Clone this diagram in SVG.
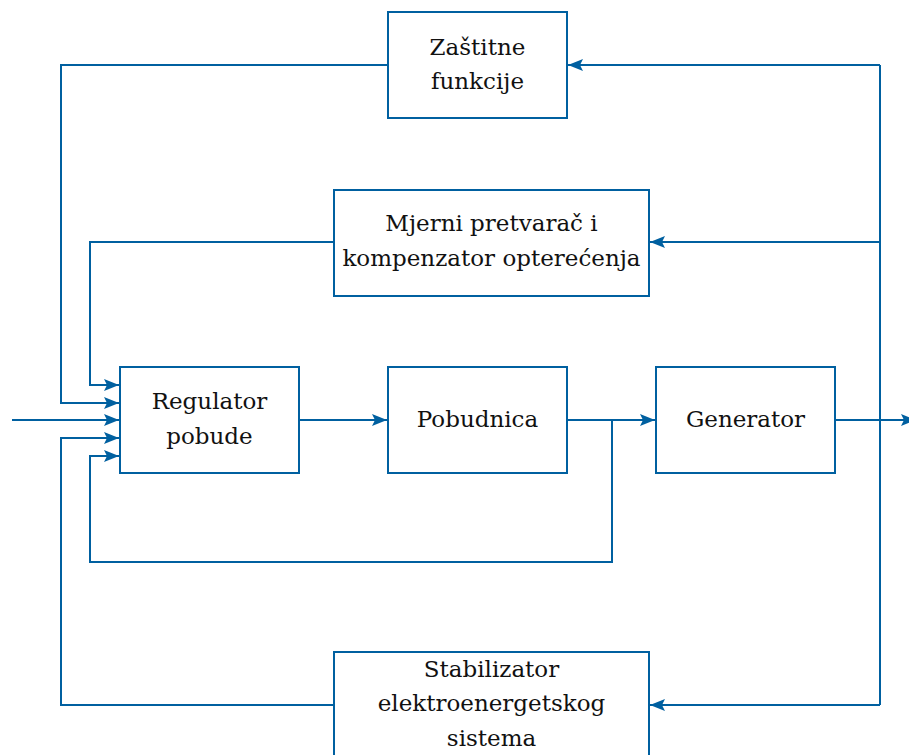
<svg xmlns="http://www.w3.org/2000/svg" width="909" height="755" viewBox="0 0 909 755">
  <style>
    .box { fill: #ffffff; stroke: #0060a0; stroke-width: 2; }
    .wire { fill: none; stroke: #0060a0; stroke-width: 2; }
    .lbl { font-family: "DejaVu Serif", "Liberation Serif", serif; font-size: 23px; fill: #111111; text-anchor: middle; }
  </style>
  <defs>
    <marker id="arr" markerUnits="userSpaceOnUse" markerWidth="18" markerHeight="16" refX="15" refY="8" orient="auto">
      <path d="M0,2 L15,8 L0,14 L3,8 Z" fill="#0060a0"/>
    </marker>
  </defs>

  <rect width="909" height="755" fill="#ffffff"/>

  <g id="connectors">
    <!-- forward path -->
    <path class="wire" d="M12,420 H119" marker-end="url(#arr)"/>
    <path class="wire" d="M299,420 H387" marker-end="url(#arr)"/>
    <path class="wire" d="M567,420 H655" marker-end="url(#arr)"/>
    <path class="wire" d="M835,420 H916" marker-end="url(#arr)"/>
    <!-- measurement bus on the right -->
    <path class="wire" d="M880,65 V705"/>
    <path class="wire" d="M880,65 H568" marker-end="url(#arr)"/>
    <path class="wire" d="M880,242 H650" marker-end="url(#arr)"/>
    <path class="wire" d="M880,705 H650" marker-end="url(#arr)"/>
    <!-- returns into the regulator -->
    <path class="wire" d="M388,65 H61 V403 H119" marker-end="url(#arr)"/>
    <path class="wire" d="M334,242 H90 V385 H119" marker-end="url(#arr)"/>
    <path class="wire" d="M334,705 H61 V438 H119" marker-end="url(#arr)"/>
    <path class="wire" d="M612,420 V562 H90 V456 H119" marker-end="url(#arr)"/>
  </g>

  <g id="zastitne">
    <rect class="box" x="388" y="12" width="179" height="106"/>
    <text class="lbl" x="477.5" y="55">Zaštitne</text>
    <text class="lbl" x="477.5" y="89">funkcije</text>
  </g>

  <g id="mjerni">
    <rect class="box" x="334" y="190" width="315" height="106"/>
    <text class="lbl" x="491.5" y="231">Mjerni pretvarač i</text>
    <text class="lbl" x="491.5" y="266">kompenzator opterećenja</text>
  </g>

  <g id="regulator">
    <rect class="box" x="120" y="367" width="179" height="106"/>
    <text class="lbl" x="209.5" y="409">Regulator</text>
    <text class="lbl" x="209.5" y="444">pobude</text>
  </g>

  <g id="pobudnica">
    <rect class="box" x="388" y="367" width="179" height="106"/>
    <text class="lbl" x="477.5" y="427">Pobudnica</text>
  </g>

  <g id="generator">
    <rect class="box" x="656" y="367" width="179" height="106"/>
    <text class="lbl" x="745.5" y="427">Generator</text>
  </g>

  <g id="stabilizator">
    <rect class="box" x="334" y="652" width="315" height="120"/>
    <text class="lbl" x="491.5" y="677">Stabilizator</text>
    <text class="lbl" x="491.5" y="711">elektroenergetskog</text>
    <text class="lbl" x="491.5" y="746">sistema</text>
  </g>
</svg>
